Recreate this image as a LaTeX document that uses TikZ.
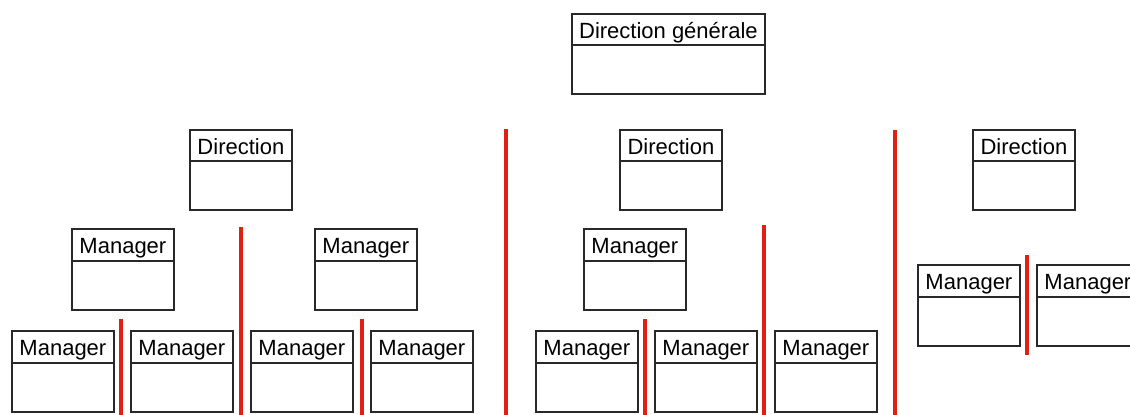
\documentclass[tikz,border=0pt]{standalone}
\usepackage{fontspec}
\setmainfont{Liberation Sans}
\definecolor{sepred}{RGB}{224,32,18}
\definecolor{boxgray}{RGB}{40,40,40}
\tikzset{
  boxframe/.style={draw=boxgray, line width=1.8pt, fill=white, inner sep=0pt, rectangle},
  boxline/.style={draw=boxgray, line width=1.8pt},
  lbl/.style={inner sep=0pt, font=\fontsize{22}{26}\selectfont, text=black},
  sep/.style={draw=sepred, line width=4pt}
}
\newcommand\orgbox[7]{%
  \node[boxframe, minimum width=#4pt, minimum height=#6pt, anchor=north west] (#1) at (#2,#3) {};
  \draw[boxline] ([yshift=-#5pt]#1.north west) -- ([yshift=-#5pt]#1.north east);
  \node[lbl, anchor=base] (#1-t) at ([yshift=-25pt]#1.north) {#7};
}
\begin{document}
\begin{tikzpicture}[x=1pt,y=-1pt]
\fill[white] (0,0) rectangle (1130,415);
\useasboundingbox (0,0) rectangle (1130,415);
% top
\orgbox{dg}{571}{13}{193}{32}{80}{Direction générale}
% directions
\orgbox{d1}{189}{129}{102}{32}{80}{Direction}
\orgbox{d2}{619}{129}{102}{32}{80}{Direction}
\orgbox{d3}{972}{129}{102}{32}{80}{Direction}
% upper managers
\orgbox{m1}{71}{228}{102}{33}{81}{Manager}
\orgbox{m2}{314}{228}{102}{33}{81}{Manager}
\orgbox{m3}{583}{228}{102}{33}{81}{Manager}
% lower managers
\orgbox{l1}{11}{330}{102}{33}{81}{Manager}
\orgbox{l2}{130}{330}{102}{33}{81}{Manager}
\orgbox{l3}{250}{330}{102}{33}{81}{Manager}
\orgbox{l4}{370}{330}{102}{33}{81}{Manager}
\orgbox{l5}{535}{330}{102}{33}{81}{Manager}
\orgbox{l6}{654}{330}{102}{33}{81}{Manager}
\orgbox{l7}{774}{330}{102}{33}{81}{Manager}
% right managers
\orgbox{r1}{917}{264}{102}{33}{81}{Manager}
\orgbox{r2}{1036}{264}{102}{33}{81}{Manager}
% separators
\coordinate (s1a) at (121,319); \coordinate (s1b) at (121,415);
\coordinate (s2a) at (241,227); \coordinate (s2b) at (241,415);
\coordinate (s3a) at (362,319); \coordinate (s3b) at (362,415);
\coordinate (s4a) at (506,129); \coordinate (s4b) at (506,415);
\coordinate (s5a) at (645,319); \coordinate (s5b) at (645,415);
\coordinate (s6a) at (764,225); \coordinate (s6b) at (764,415);
\coordinate (s7a) at (895,130); \coordinate (s7b) at (895,415);
\coordinate (s8a) at (1027,255); \coordinate (s8b) at (1027,355);
\foreach \s in {1,...,8} \draw[sep] (s\s a) -- (s\s b);
\end{tikzpicture}
\end{document}
